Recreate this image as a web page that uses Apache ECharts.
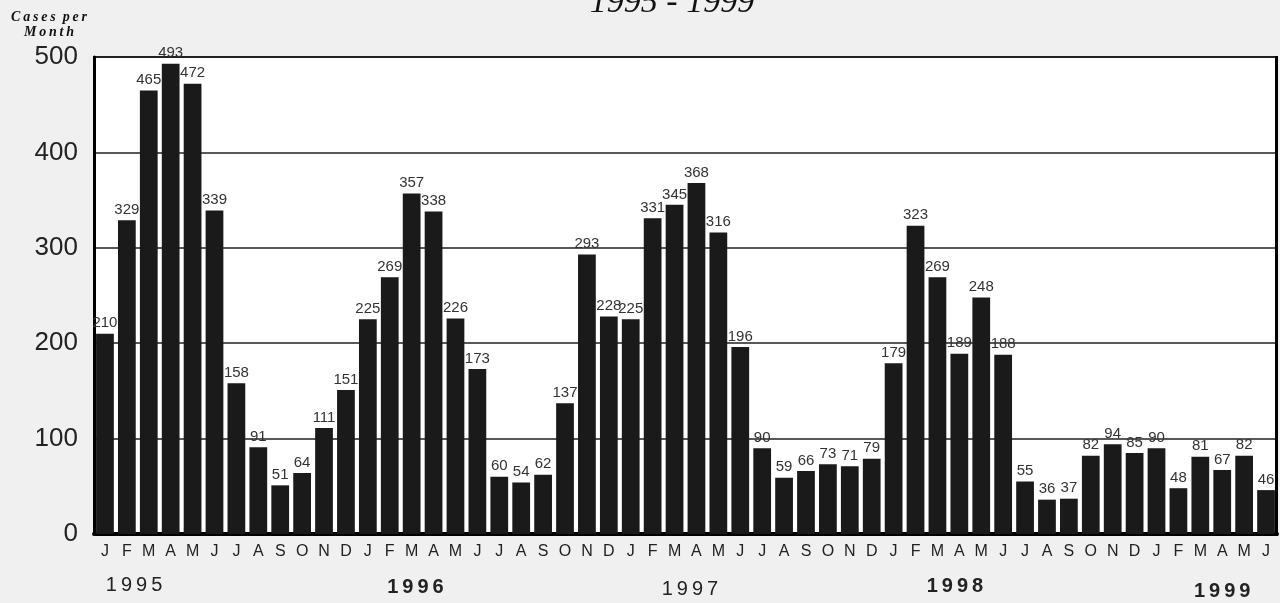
<!DOCTYPE html>
<html><head><meta charset="utf-8">
<script src="https://cdn.jsdelivr.net/npm/echarts@6/dist/echarts.min.js"></script>
<style>html,body{margin:0;padding:0;background:#f0f0f0}#c{width:1280px;height:603px}</style>
</head><body><div id="c"></div>
<script>
const months = ['J','F','M','A','M','J','J','A','S','O','N','D','J','F','M','A','M','J','J','A','S','O','N','D','J','F','M','A','M','J','J','A','S','O','N','D','J','F','M','A','M','J','J','A','S','O','N','D','J','F','M','A','M','J'];
const cases = [210,329,465,493,472,339,158,91,51,64,111,151,
               225,269,357,338,226,173,60,54,62,137,293,228,
               225,331,345,368,316,196,90,59,66,73,71,79,
               179,323,269,189,248,188,55,36,37,82,94,85,
               90,48,81,67,82,46];
const yearLabels = ['1995','1996','1997','1998','1999'];
const yearAnchor = [1.33,14.17,26.7,38.8,51.0];
const yearBold = [false,true,false,true,true];
const yearDy = [585,587,589.5,586.5,591.5];

const chart = echarts.init(document.getElementById('c'));
const font = '"Liberation Sans", Arial, sans-serif';
chart.setOption({
  backgroundColor:'#f0f0f0',
  animation:false,
  grid:{left:94,right:3,top:57,bottom:69,show:true,backgroundColor:'#ffffff',borderColor:'#222',borderWidth:2},
  xAxis:{type:'category',data:months,
    axisLine:{lineStyle:{color:'#000',width:4}},
    axisTick:{show:false},
    axisLabel:{interval:0,fontFamily:font,fontSize:16,color:'#222',margin:10}},
  yAxis:{type:'value',min:0,max:500,interval:100,
    axisLine:{show:true,lineStyle:{color:'#000',width:3}},
    axisTick:{show:false},
    splitLine:{lineStyle:{color:'#222',width:1.5}},
    axisLabel:{fontFamily:font,fontSize:26,color:'#222',margin:16}},
  series:[{type:'bar',data:cases,barCategoryGap:'19%',
    itemStyle:{color:'#1a1a1a'},
    label:{show:true,position:'top',distance:3,fontFamily:font,fontSize:15,color:'#333'}}],
  graphic:[]
});
const g = [
  {type:'rect',shape:{x:1275,y:56,width:3,height:480},style:{fill:'#000'},z:100},
  {type:'text',x:672,y:-14,style:{text:'1995 - 1999',font:'italic 34px "Liberation Serif", "Times New Roman", serif',fill:'#111',textAlign:'center',textVerticalAlign:'top'}},
  {type:'text',x:49,y:17,style:{text:'C\u2009a\u2009s\u2009e\u2009s\u2002p\u2009e\u2009r',font:'italic bold 14px "Liberation Serif", "Times New Roman", serif',fill:'#111',textAlign:'center',textVerticalAlign:'middle'}},
  {type:'text',x:49,y:32,style:{text:'M\u2009o\u2009n\u2009t\u2009h',font:'italic bold 14px "Liberation Serif", "Times New Roman", serif',fill:'#111',textAlign:'center',textVerticalAlign:'middle'}}
];
yearLabels.forEach((y,i)=>{
  const x0 = chart.convertToPixel({xAxisIndex:0},Math.floor(yearAnchor[i]));
  const x1 = chart.convertToPixel({xAxisIndex:0},Math.floor(yearAnchor[i])+1);
  const x = x0 + (x1-x0)*(yearAnchor[i]-Math.floor(yearAnchor[i]));
  g.push({type:'text',x:x,y:yearDy[i],style:{text:y.split('').join('\u2009'),font:(yearBold[i]?'bold ':'')+'20px '+font,fill:'#222',textAlign:'center',textVerticalAlign:'middle'}});
});
chart.setOption({graphic:g});
</script></body></html>
